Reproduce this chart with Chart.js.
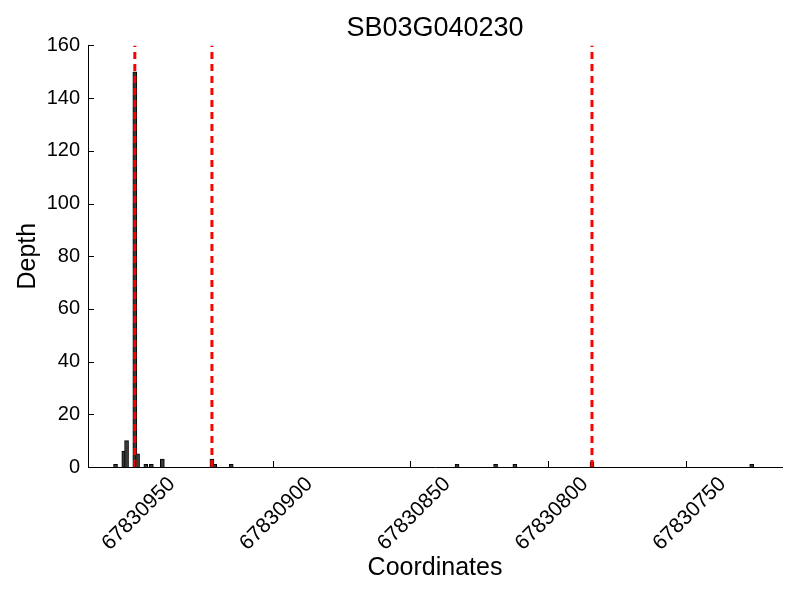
<!DOCTYPE html>
<html>
<head>
<meta charset="utf-8">
<script src="https://cdn.jsdelivr.net/npm/chart.js@4/dist/chart.umd.min.js"></script>
<style>
    html, body { margin: 0; padding: 0; background: #fff; }
    #wrap { width: 800px; height: 600px; }
</style>
</head>
<body>
<div id="wrap"><canvas id="depthChart"></canvas></div>
<script>
const coords = [67830957, 67830954, 67830953, 67830950, 67830949, 67830946, 67830944, 67830940,
    67830922, 67830921, 67830915, 67830833, 67830819, 67830812, 67830784, 67830726]
const depth = [1, 6, 10, 150, 5, 1, 1, 3, 3, 1, 1, 1, 1, 1, 2, 1]
const markers = [67830950, 67830922, 67830784]
const xTicks = [67830950, 67830900, 67830850, 67830800, 67830750]
const yTicks = [0, 20, 40, 60, 80, 100, 120, 140, 160]

const font = 'Liberation Sans'

// small inward tick marks, like the original plot
const innerTicks = {
    id: 'innerTicks',
    afterDraw(chart) {
        const ctx = chart.ctx
        const area = chart.chartArea
        const x = chart.scales.x
        const y = chart.scales.y
        ctx.save()
        ctx.strokeStyle = '#000'
        ctx.lineWidth = 1
        ctx.beginPath()
        y.ticks.forEach(t => {
            const py = Math.round(y.getPixelForValue(t.value)) + 0.5
            ctx.moveTo(area.left, py)
            ctx.lineTo(area.left + 6, py)
        })
        x.ticks.forEach(t => {
            const px = Math.round(x.getPixelForValue(t.value)) + 0.5
            ctx.moveTo(px, area.bottom)
            ctx.lineTo(px, area.bottom - 6)
        })
        ctx.stroke()
        ctx.restore()
    }
}

const datasets = [{
    type: 'bar',
    data: coords.map((c, i) => ({ x: c, y: depth[i] })),
    backgroundColor: '#3a3a3a',
    borderColor: '#000',
    borderWidth: 1,
    barThickness: 4,
    order: 2
}]

markers.forEach(m => {
    datasets.push({
        type: 'line',
        data: [{ x: m, y: 0 }, { x: m, y: 160 }],
        borderColor: '#ff0000',
        borderWidth: 3,
        borderDash: [7, 5],
        pointRadius: 0,
        fill: false,
        order: 1
    })
})

new Chart(document.getElementById('depthChart'), {
    type: 'bar',
    data: { datasets: datasets },
    options: {
        responsive: true,
        maintainAspectRatio: false,
        animation: false,
        layout: { padding: { left: 0, right: 18, top: 0, bottom: 0 } },
        scales: {
            x: {
                type: 'linear',
                reverse: true,
                min: 67830715,
                max: 67830967,
                offset: false,
                grid: { display: false, drawTicks: false },
                border: { display: true, color: '#000', width: 1 },
                afterBuildTicks: scale => {
                    scale.ticks = xTicks.map(v => ({ value: v }))
                },
                afterFit: scale => { scale.height = 133 },
                ticks: {
                    minRotation: 45,
                    maxRotation: 45,
                    autoSkip: false,
                    padding: 5,
                    labelOffset: 37,
                    color: '#000',
                    font: { family: font, size: 21 },
                    callback: v => String(v)
                },
                title: {
                    display: true,
                    text: 'Coordinates',
                    color: '#000',
                    font: { family: font, size: 25 },
                    padding: 17
                }
            },
            y: {
                min: 0,
                max: 160,
                grid: { display: false, drawTicks: false },
                border: { display: true, color: '#000', width: 1 },
                afterBuildTicks: scale => {
                    scale.ticks = yTicks.map(v => ({ value: v }))
                },
                afterFit: scale => { scale.width = 88 },
                ticks: {
                    padding: 8,
                    color: '#000',
                    font: { family: font, size: 20 }
                },
                title: {
                    display: true,
                    text: 'Depth',
                    color: '#000',
                    font: { family: font, size: 25 },
                    padding: 13
                }
            }
        },
        plugins: {
            legend: { display: false },
            tooltip: { enabled: false },
            title: {
                display: true,
                text: 'SB03G040230',
                fullSize: false,
                color: '#000',
                font: { family: font, size: 27, weight: 'normal' },
                padding: { top: 12, bottom: 1 }
            }
        }
    },
    plugins: [innerTicks]
})
</script>
</body>
</html>
